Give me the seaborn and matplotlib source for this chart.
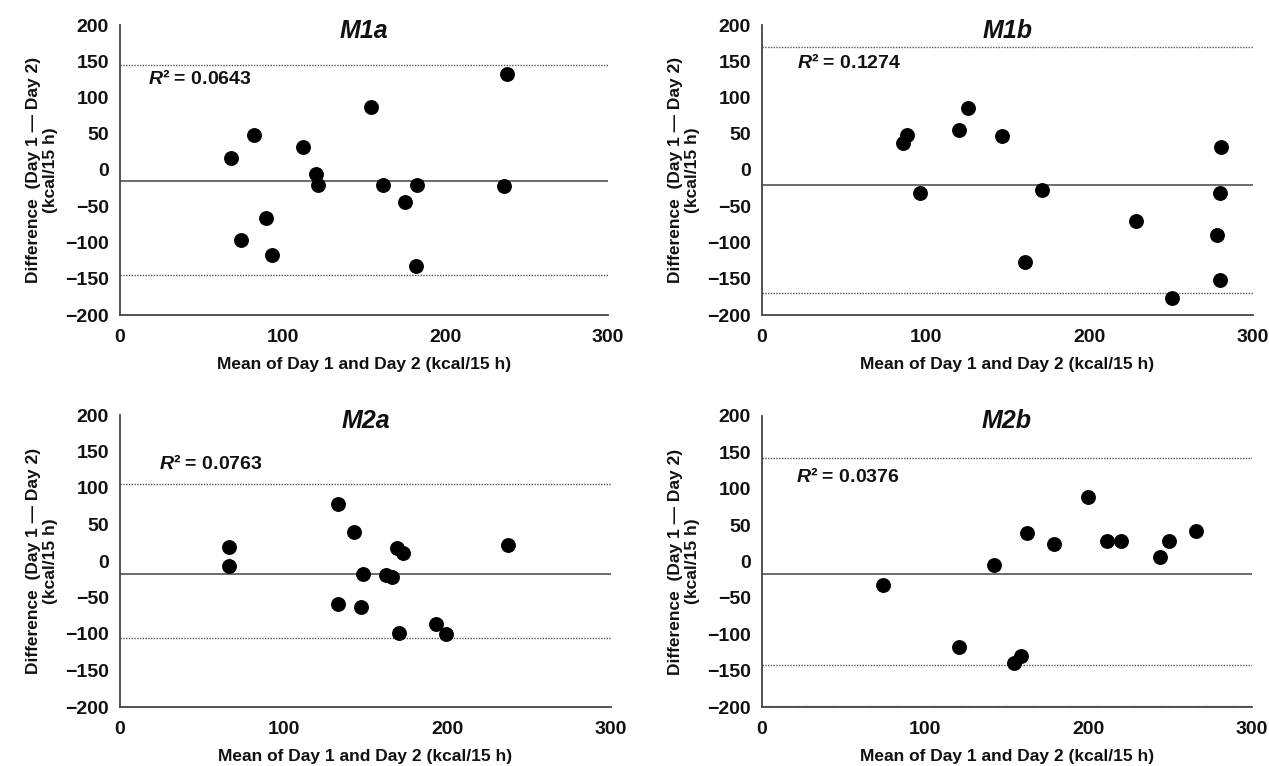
import matplotlib
matplotlib.use("Agg")
import matplotlib.pyplot as plt
import seaborn as sns
import pandas as pd

sns.set_style("white")
plt.rcParams['font.family'] = ['Liberation Sans', 'DejaVu Sans']
plt.rcParams['font.weight'] = 'bold'
plt.rcParams['mathtext.fontset'] = 'custom'
plt.rcParams['mathtext.bfit'] = 'Liberation Sans:bold:italic'

# ---- data ----
m1a_mean = [68.3, 82.2, 112.3, 120.4, 121.9, 154.0, 161.8, 175.4, 182.4, 181.9, 89.7, 74.1, 93.5, 236.0, 238.2]
m1a_diff = [16, 47.8, 32, -6, -20.7, 86.9, -21, -44, -21, -132, -66.7, -96, -117.7, -22.5, 132.4]

m1b_mean = [86.0, 88.75, 96.25, 120.25, 125.75, 146.75, 171.0, 160.75, 228.25, 250.75, 280.75, 279.75, 277.75, 279.75]
m1b_diff = [37.7, 47.9, -31.8, 55.7, 86.0, 46.5, -27.0, -127.5, -70.0, -176.3, 31.8, -31.8, -89.3, -151.4]

m2a_mean = [66.9, 66.4, 133.0, 143.2, 133.0, 147.0, 148.7, 162.7, 166.0, 169.2, 172.7, 170.2, 193.2, 199.2, 237.0]
m2a_diff = [19.8, -6.4, 78.2, 40.0, -58.4, -63.0, -18.4, -19.3, -22.5, 18.4, 11.0, -99.3, -86.9, -100.2, 21.6]

m2b_mean = [74.2, 120.6, 142.0, 154.5, 158.8, 162.1, 178.5, 199.8, 211.2, 219.5, 243.6, 249.2, 266.0]
m2b_diff = [-32.3, -117.8, -5.0, -139.5, -130.3, 39.3, 24.0, 88.7, 28.6, 27.7, 5.5, 27.7, 42.5]

titles = ["M1a", "M1b", "M2a", "M2b"]
bias = [-15, -20, -18, -17]
loa = [145, 170, 106, 142]
r2_labels = ["0.0643", "0.1274", "0.0763", "0.0376"]
r2_pos = [(17.5, 126), (21.5, 148), (24, 133), (21, 117)]
x_ticks = [0, 100, 200, 300]
y_ticks = [-200, -150, -100, -50, 0, 50, 100, 150, 200]

panels = [(m1a_mean, m1a_diff), (m1b_mean, m1b_diff), (m2a_mean, m2a_diff), (m2b_mean, m2b_diff)]

W, H = 1269, 766
fig = plt.figure(figsize=(W / 100, H / 100), dpi=100)
rects = [
    (120 / W, 1 - 315 / H, 488 / W, 290 / H),
    (762 / W, 1 - 315 / H, 491 / W, 290 / H),
    (120 / W, 1 - 707 / H, 491 / W, 292 / H),
    (762 / W, 1 - 707 / H, 490 / W, 291 / H),
]

txt = "#111111"
spine_c = "#444444"
for i, (rect, (xm, yd)) in enumerate(zip(rects, panels)):
    ax = fig.add_axes(rect)
    df = pd.DataFrame({"mean": xm, "diff": yd})
    ax.axhline(bias[i], color="#444444", lw=1.1, zorder=1)
    ax.axhline(loa[i], color="#555555", lw=1.0, ls=(0, (1, 1)), zorder=1)
    ax.axhline(-loa[i], color="#555555", lw=1.0, ls=(0, (1, 1)), zorder=1)
    if i == 3:
        ax.axhline(-198, color="#777777", lw=1.0, ls=(0, (1, 1)), zorder=1)
    sns.scatterplot(data=df, x="mean", y="diff", ax=ax, color="black", s=115,
                    edgecolor="black", linewidth=0, zorder=3)
    ax.set_xlim(0, 300)
    ax.set_ylim(-200, 200)
    ax.set_xticks(x_ticks)
    ax.set_yticks(y_ticks)
    ax.set_yticklabels([f"{v}".replace("-", "\u2212") for v in y_ticks])
    for s in ["top", "right"]:
        ax.spines[s].set_visible(False)
    for s in ["left", "bottom"]:
        ax.spines[s].set_color(spine_c)
        ax.spines[s].set_linewidth(1.3)
    ax.tick_params(axis="both", direction="out", length=4, width=1.2, color=spine_c,
                   labelsize=14, labelcolor=txt, pad=4)
    ax.tick_params(axis="x", pad=6)
    for lab in ax.get_xticklabels() + ax.get_yticklabels():
        lab.set_fontweight("bold")
    ax.set_xlabel("Mean of Day 1 and Day 2 (kcal/15 h)", fontsize=12.5, fontweight="bold",
                  color=txt, labelpad=8)
    ax.set_ylabel("Difference  (Day 1 \u2014 Day 2)\n(kcal/15 h)", fontsize=12.5,
                  fontweight="bold", color=txt, labelpad=5, linespacing=1.2)
    ax.set_title(titles[i], fontsize=18, fontweight="bold", style="italic", color=txt,
                 pad=-9, y=1.0)
    ax.text(r2_pos[i][0], r2_pos[i][1], "$\\mathbfit{R}$\u00b2 = " + r2_labels[i],
            fontsize=14, fontweight="bold", color=txt, va="center", ha="left")

fig.savefig("out.png", dpi=100)
